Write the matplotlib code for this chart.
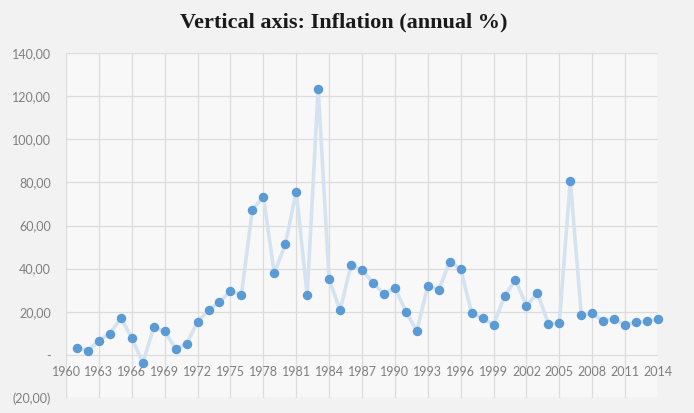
import numpy as np
import matplotlib.pyplot as plt
from matplotlib.ticker import FuncFormatter

years = list(range(1961, 2015))
inflation = [3.4, 1.9, 6.6, 9.9, 17.0, 8.0, -3.9, 12.7, 11.0, 2.8,
             5.1, 15.3, 20.9, 24.6, 29.5, 28.0, 67.3, 73.4, 37.9, 51.2,
             75.7, 27.8, 123.4, 35.2, 20.6, 41.7, 39.3, 33.5, 28.3, 31.2,
             20.1, 11.1, 31.9, 30.1, 43.0, 39.9, 19.5, 17.0, 13.9, 27.2,
             34.8, 22.7, 28.8, 14.4, 14.8, 80.8, 18.7, 19.3, 15.6, 16.7,
             13.8, 15.2, 15.5, 16.7]
year_ticks = list(range(1960, 2015, 3))
value_ticks = list(range(-20, 141, 20))


def fmt(v, pos):
    if abs(v) < 1e-9:
        return '-'
    s = f"{abs(v):.2f}".replace('.', ',')
    return f"({s})" if v < 0 else s


fig = plt.figure(figsize=(6.94, 4.13), dpi=100)
fig.patch.set_facecolor('#f2f2f2')
ax = fig.add_axes([66/694, 1 - 398/413, (658 - 66)/694, (398 - 53)/413])
ax.set_facecolor('#f8f8f8')

ax.plot(years, inflation, color='#d5e3f1', lw=2.6, zorder=2, clip_on=False)
ax.plot(years, inflation, 'o', color='#5b9bd5', ms=5.8, zorder=3, clip_on=False)

ax.set_xlim(1960, 2014)
ax.set_ylim(-20, 140)
ax.set_xticks(year_ticks)
ax.set_yticks(value_ticks)
ax.yaxis.set_major_formatter(FuncFormatter(fmt))
ax.grid(True, color='#dcdcdc', lw=0.9, zorder=0)
for s in ax.spines.values():
    s.set_visible(False)
ax.spines['bottom'].set_position(('data', 0))
ax.tick_params(axis='both', length=0, labelsize=9, labelcolor='#7f7f7f')
ax.tick_params(axis='x', pad=8)
ax.tick_params(axis='y', pad=11)
for lab in ax.get_xticklabels() + ax.get_yticklabels():
    lab.set_family('Lato')

fig.text(0.496, 1 - 22/413, 'Vertical axis: Inflation (annual %)', ha='center', va='center',
         fontsize=16, fontweight='bold', family='Liberation Serif', color='#1a1a1a')

fig.savefig('out.png', dpi=100, facecolor=fig.get_facecolor())
